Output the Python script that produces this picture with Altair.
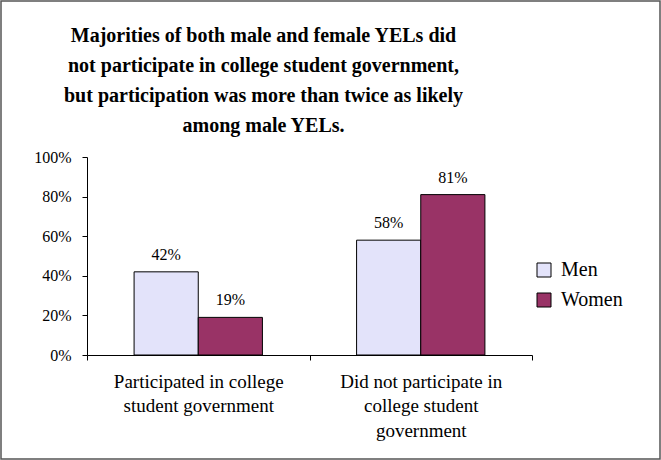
import altair as alt
import pandas as pd

categories = ["Participated in college\nstudent government",
              "Did not participate in\ncollege student\ngovernment"]
series = ["Men", "Women"]
men_values = [42, 58]
women_values = [19, 81]
colors = ["#E3E3FA", "#993366"]
title_lines = ["Majorities of both male and female YELs did",
               "not participate in college student government,",
               "but participation was more than twice as likely",
               "among male YELs."]
y_ticks = [0, 20, 40, 60, 80, 100]

rows = []
for c, m, w in zip(categories, men_values, women_values):
    rows.append({"category": c, "group": "Men", "value": m, "label": f"{m}%"})
    rows.append({"category": c, "group": "Women", "value": w, "label": f"{w}%"})
df = pd.DataFrame(rows)

FONT = "Liberation Serif"

x_enc = alt.X("category:N", sort=categories, title=None,
              scale=alt.Scale(paddingInner=0, paddingOuter=0),
              axis=alt.Axis(labelAngle=0, labelExpr="split(datum.label, '\\n')",
                            tickBand="extent", labelFontSize=19, labelLineHeight=24.5,
                            labelPadding=12, tickSize=5, labelLimit=0,
                            domainColor="#000", tickColor="#000", labelColor="#000",
                            labelFont=FONT, grid=False))
xo_enc = alt.XOffset("group:N", sort=series,
                     scale=alt.Scale(paddingOuter=0.734, paddingInner=0))
y_enc = alt.Y("value:Q", title=None,
              scale=alt.Scale(domain=[0, 100], nice=False),
              axis=alt.Axis(values=y_ticks, labelExpr="datum.value + '%'",
                            labelOverlap=False, labelFontSize=16, labelFont=FONT,
                            labelColor="#000", tickSize=5, labelPadding=11,
                            domainColor="#000", tickColor="#000", grid=False))

bars = alt.Chart(df).mark_bar(stroke="black", strokeWidth=1).encode(
    x=x_enc, xOffset=xo_enc, y=y_enc,
    fill=alt.Fill("group:N", sort=series,
                  scale=alt.Scale(domain=series, range=colors),
                  legend=alt.Legend(orient="none", legendX=447, legendY=103, title=None,
                                    symbolType="square", symbolSize=196,
                                    symbolStrokeColor="black", symbolStrokeWidth=1,
                                    labelFontSize=20, labelFont=FONT, labelColor="#000",
                                    rowPadding=10, padding=0, labelOffset=7)),
)

texts = alt.Chart(df).mark_text(font=FONT, fontSize=16, color="#000",
                                baseline="alphabetic", dy=-12).encode(
    x=x_enc, xOffset=xo_enc, y=y_enc,
    text="label:N",
)

frame = alt.Chart(pd.DataFrame({"a": [0]})).mark_rect(
    filled=False, stroke="#555555", strokeWidth=1.5).encode(
    x=alt.value(-86), x2=alt.value(573), y=alt.value(-156), y2=alt.value(302))

chart = alt.layer(bars, texts, frame).properties(
    width=445, height=198,
    title=alt.TitleParams(text=title_lines, font=FONT, fontSize=20, fontWeight="bold",
                          lineHeight=30, anchor="middle", dx=-46, dy=140, color="#000"),
    autosize=alt.AutoSizeParams(type="none"),
    padding={"left": 87, "top": 157, "right": 129, "bottom": 105},
).configure(background="white").configure_view(stroke=None)

chart.save("out.html", embed_options={"renderer": "svg", "actions": False})
